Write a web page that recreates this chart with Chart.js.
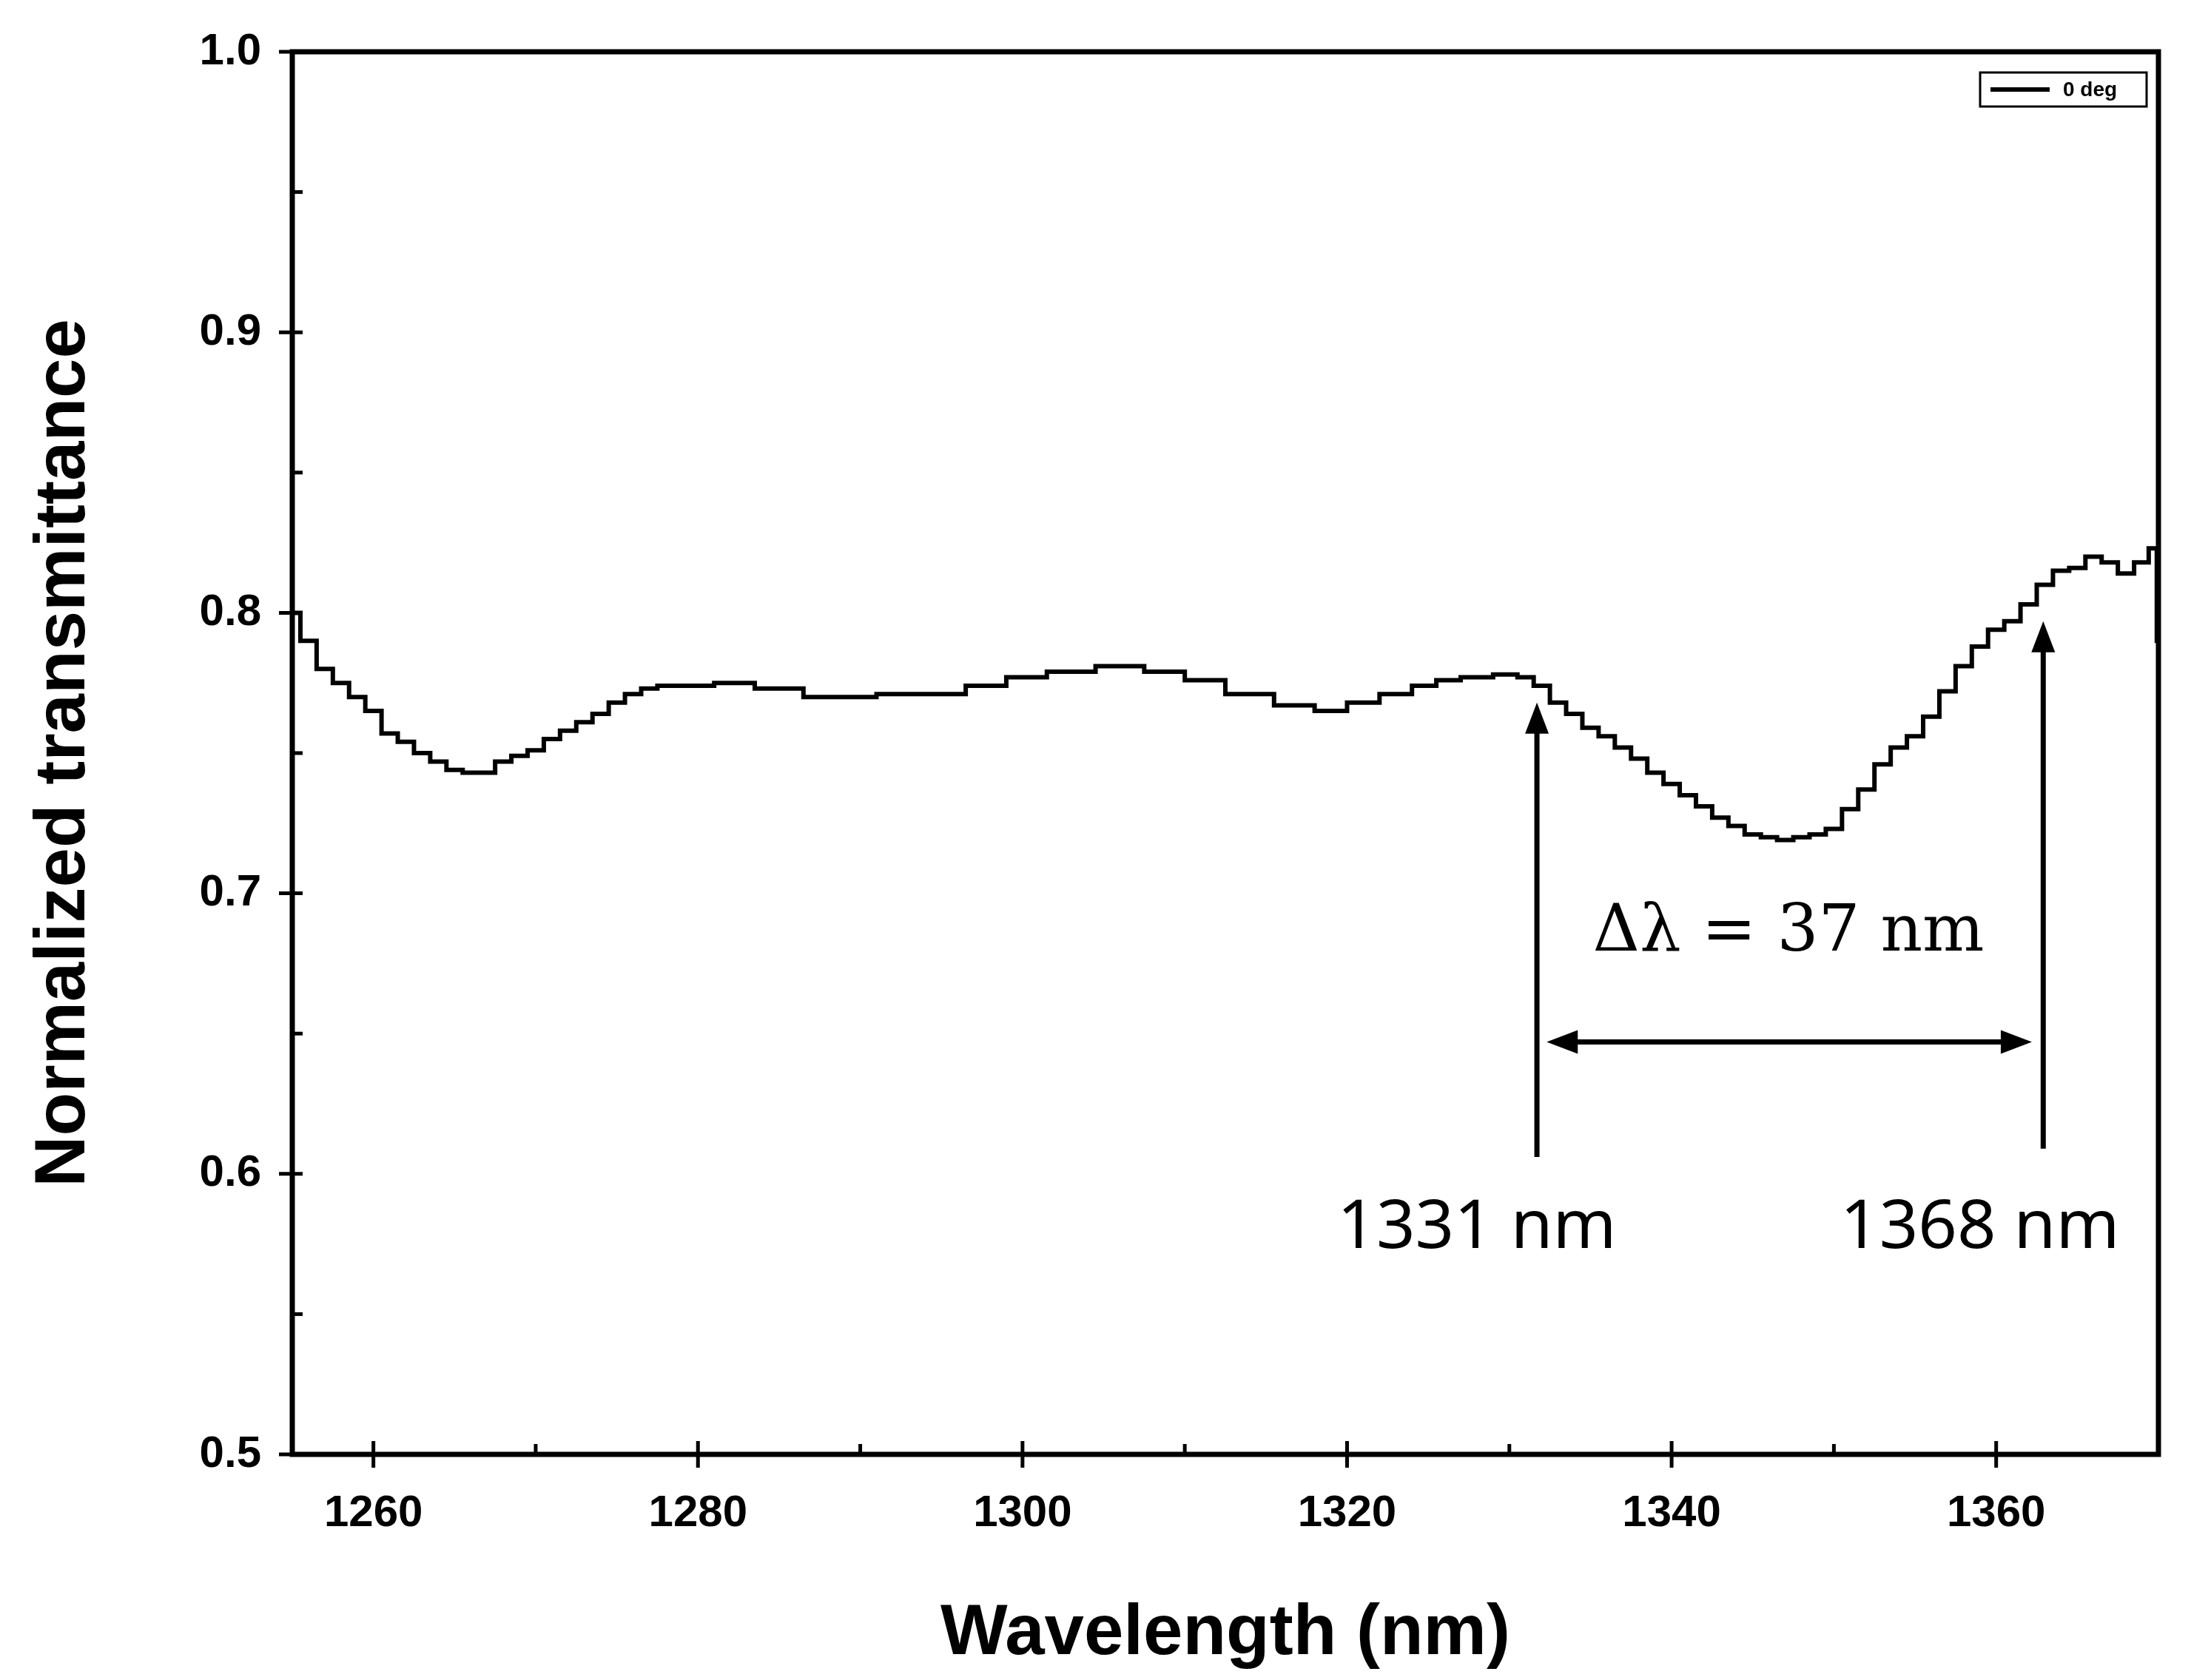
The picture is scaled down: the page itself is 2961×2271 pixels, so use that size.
<!DOCTYPE html>
<html><head><meta charset="utf-8">
<script src="https://cdn.jsdelivr.net/npm/chart.js@4/dist/chart.umd.min.js"></script>
<style>body{margin:0;background:#fff}canvas{display:block}</style></head>
<body><canvas id="c" width="2961" height="2271" style="width:2961px;height:2271px"></canvas>
<script>
const wavelengths=[1255,1256,1257,1258,1259,1260,1261,1262,1263,1264,1265,1266,1267,1268,1269,1270,1271,1272,1273,1274,1275,1276,1277,1278,1280,1282,1285,1288,1290,1292,1295,1298,1300,1303,1306,1309,1311,1314,1317,1319,1321,1323,1325,1326,1328,1330,1331,1332,1333,1334,1335,1336,1337,1338,1339,1340,1341,1342,1343,1344,1345,1346,1347,1348,1349,1350,1351,1352,1353,1354,1355,1356,1357,1358,1359,1360,1361,1362,1363,1364,1365,1366,1367,1368,1369,1369.8,1370];
const transmittance=[0.80,0.79,0.78,0.775,0.77,0.765,0.757,0.754,0.75,0.747,0.744,0.743,0.743,0.747,0.749,0.751,0.755,0.758,0.761,0.764,0.768,0.771,0.773,0.774,0.774,0.775,0.773,0.770,0.770,0.771,0.771,0.774,0.777,0.779,0.781,0.779,0.776,0.771,0.767,0.765,0.768,0.771,0.774,0.776,0.777,0.778,0.777,0.774,0.768,0.764,0.759,0.756,0.752,0.748,0.743,0.739,0.735,0.731,0.727,0.724,0.721,0.72,0.719,0.72,0.721,0.723,0.73,0.737,0.746,0.752,0.756,0.763,0.772,0.781,0.788,0.794,0.797,0.803,0.81,0.815,0.816,0.82,0.818,0.814,0.818,0.823,0.79];
const seriesLabel='0 deg';
const arrows=[{x:1331.7,y0:0.606,y1:0.768},{x:1362.9,y0:0.609,y1:0.797}];
const spanArrow={x0:1332.3,x1:1362.2,y:0.647};
const notes=[{text:'Δλ = 37 nm',x:1347.2,y:0.6855,serif:true},{text:'1331 nm',x:1328,y:0.5805},{text:'1368 nm',x:1359,y:0.5805}];

const deco={id:'deco',afterDatasetsDraw(ch){
  const c=ch.ctx,xs=ch.scales.x,ys=ch.scales.y,a=ch.chartArea;
  c.save();c.strokeStyle='#000';c.fillStyle='#000';
  c.lineWidth=5;
  for(let v=1260;v<=1370;v+=10){const px=xs.getPixelForValue(v);c.beginPath();c.moveTo(px,a.bottom);c.lineTo(px,a.bottom-(v%20==0?18:14));if(v%20==0){c.moveTo(px,a.bottom);c.lineTo(px,a.bottom+18);}c.stroke();}
  for(let i=0;i<=10;i++){const v=0.5+i*0.05;const py=ys.getPixelForValue(v);c.beginPath();c.moveTo(a.left,py);c.lineTo(a.left+14,py);if(i%2==0){c.moveTo(a.left,py);c.lineTo(a.left-18,py);}c.stroke();}
  c.lineWidth=7;c.strokeRect(a.left,a.top,a.right-a.left,a.bottom-a.top);
  function head(x,y,dx,dy){const L=42,W=16;c.beginPath();c.moveTo(x,y);c.lineTo(x-dx*L-dy*W,y-dy*L+dx*W);c.lineTo(x-dx*L+dy*W,y-dy*L-dx*W);c.closePath();c.fill();}
  c.lineWidth=7;
  arrows.forEach(r=>{const px=xs.getPixelForValue(r.x),p0=ys.getPixelForValue(r.y0),p1=ys.getPixelForValue(r.y1);c.beginPath();c.moveTo(px,p0);c.lineTo(px,p1+30);c.stroke();head(px,p1,0,-1);});
  {const p0=xs.getPixelForValue(spanArrow.x0),p1=xs.getPixelForValue(spanArrow.x1),py=ys.getPixelForValue(spanArrow.y);c.beginPath();c.moveTo(p0+30,py);c.lineTo(p1-30,py);c.stroke();head(p0,py,-1,0);head(p1,py,1,0);}
  c.textAlign='center';c.textBaseline='middle';
  notes.forEach(n=>{c.font=n.serif?'88px "DejaVu Serif"':'92px "Noto Sans"';c.fillText(n.text,xs.getPixelForValue(n.x),ys.getPixelForValue(n.y));});
  c.lineWidth=3;c.strokeRect(2676,98,225,46);c.lineWidth=6;c.beginPath();c.moveTo(2690,121);c.lineTo(2770,121);c.stroke();
  c.font='bold 28px "Liberation Sans"';c.textAlign='left';c.fillText(seriesLabel,2788,122);
  c.restore();}};

new Chart(document.getElementById('c'),{type:'line',
 data:{datasets:[{label:seriesLabel,data:wavelengths.map((w,i)=>({x:w,y:transmittance[i]})),borderColor:'#000',borderWidth:6,pointRadius:0,stepped:'middle',fill:false}]},
 options:{responsive:false,animation:false,devicePixelRatio:1,
  layout:{padding:{top:68,right:44,left:0,bottom:0}},
  plugins:{legend:{display:false},tooltip:{enabled:false}},
  scales:{
   x:{type:'linear',min:1255,max:1370,afterFit(s){s.height=305;},afterBuildTicks(s){s.ticks=[1260,1280,1300,1320,1340,1360].map(v=>({value:v}));},
      grid:{display:false},border:{display:false},
      ticks:{color:'#000',font:{family:'Liberation Sans',weight:'bold',size:60},padding:36,maxRotation:0,callback:v=>String(v)},
      title:{display:true,text:'Wavelength (nm)',color:'#000',font:{family:'Liberation Sans',weight:'bold',size:96},padding:{top:50}}},
   y:{min:0.5,max:1.0,afterFit(s){s.width=395;},afterBuildTicks(s){s.ticks=[0.5,0.6,0.7,0.8,0.9,1.0].map(v=>({value:v}));},
      grid:{display:false},border:{display:false},
      ticks:{color:'#000',font:{family:'Liberation Sans',weight:'bold',size:60},padding:34,callback:v=>v.toFixed(1)},
      title:{display:true,text:'Normalized transmittance',color:'#000',font:{family:'Liberation Sans',weight:'bold',size:96},padding:{top:30,bottom:20}}}}},
 plugins:[deco]});
</script></body></html>
